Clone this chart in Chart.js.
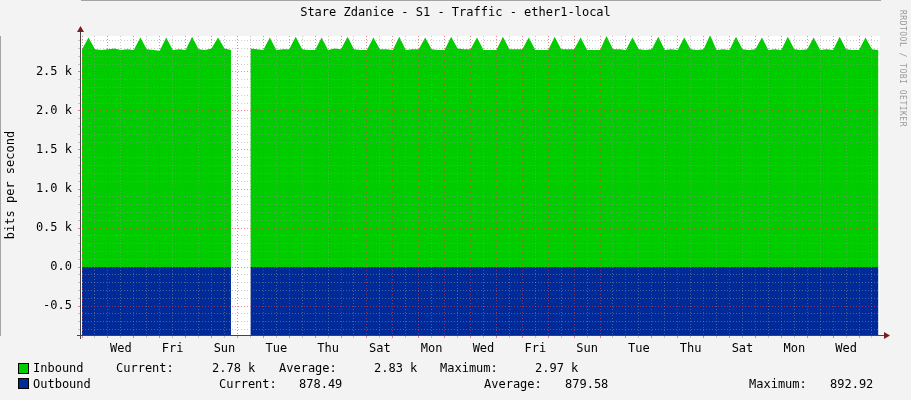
<!DOCTYPE html>
<html><head><meta charset="utf-8">
<script src="https://cdn.jsdelivr.net/npm/chart.js@4.4.0/dist/chart.umd.min.js"></script>
<style>
  body { margin:0; background:#f3f3f3; font-family:"DejaVu Sans Mono", monospace; }
  #wrap { position:relative; width:911px; height:400px; overflow:hidden; }
  #c { position:absolute; left:0; top:0; }
  .t { position:absolute; font-size:12px; color:#000; white-space:pre; line-height:14px; }
  .sq { position:absolute; width:9px; height:9px; border:1px solid #000; }
  #title { position:absolute; left:0; width:911px; top:5px; text-align:center; font-size:12px; }
  #side { position:absolute; left:898px; top:10px; font-size:8px; color:#999; writing-mode:vertical-rl; letter-spacing:0.5px; }
  #ylab { position:absolute; left:-45px; top:178px; width:110px; text-align:center; font-size:12px; transform:rotate(-90deg); }
</style></head>
<body><div id="wrap">
<canvas id="c" width="911" height="400"></canvas>
<div id="title">Stare Zdanice - S1 - Traffic - ether1-local</div>
<div id="side">RRDTOOL / TOBI OETIKER</div>
<div id="ylab">bits per second</div>
<div class="sq" style="left:18px;top:363px;background:#00cc00"></div>
<div class="sq" style="left:18px;top:378px;background:#002a97"></div>
<div class="t" style="left:33px;top:361px">Inbound</div>
<div class="t" style="left:116px;top:361px">Current:</div>
<div class="t" style="left:212px;top:361px">2.78 k</div>
<div class="t" style="left:279px;top:361px">Average:</div>
<div class="t" style="left:374px;top:361px">2.83 k</div>
<div class="t" style="left:440px;top:361px">Maximum:</div>
<div class="t" style="left:535px;top:361px">2.97 k</div>
<div class="t" style="left:33px;top:377px">Outbound</div>
<div class="t" style="left:219px;top:377px">Current:</div>
<div class="t" style="left:299px;top:377px">878.49</div>
<div class="t" style="left:484px;top:377px">Average:</div>
<div class="t" style="left:565px;top:377px">879.58</div>
<div class="t" style="left:749px;top:377px">Maximum:</div>
<div class="t" style="left:830px;top:377px">892.92</div>
</div>
<script>
// samples every 6 hours, first sample one day before the first midnight (Wed)
const START_DAY = -1;
const STEP_DAY = 0.25;
const DAY_NAMES = ['Wed','Thu','Fri','Sat','Sun','Mon','Tue'];

const inbound = [
  2.79,2.94,2.79,2.78, 2.79,2.80,2.78,2.79, 2.78,2.94,2.79,2.78, 2.77,2.94,2.78,2.79,
  2.78,2.95,2.79,2.78, 2.80,2.94,2.80,2.78, null,null,2.80,2.79, 2.78,2.94,2.78,2.79,
  2.79,2.95,2.79,2.78, 2.78,2.94,2.78,2.80, 2.79,2.95,2.79,2.78, 2.78,2.94,2.79,2.79,
  2.78,2.95,2.78,2.79, 2.79,2.94,2.79,2.78, 2.78,2.95,2.80,2.79, 2.79,2.94,2.78,2.78,
  2.78,2.95,2.79,2.79, 2.79,2.94,2.78,2.78, 2.78,2.95,2.79,2.79, 2.79,2.94,2.78,2.78,
  2.78,2.96,2.79,2.79, 2.78,2.94,2.79,2.78, 2.79,2.95,2.78,2.79, 2.78,2.94,2.79,2.78,
  2.79,2.97,2.78,2.79, 2.78,2.95,2.79,2.78, 2.79,2.94,2.78,2.79, 2.78,2.95,2.79,2.78,
  2.79,2.94,2.78,2.79, 2.78,2.95,2.79,2.78, 2.78,2.94,2.79,2.78
];
const outbound = [
  -0.88,-0.88,-0.87,-0.88, -0.88,-0.88,-0.88,-0.87, -0.88,-0.88,-0.88,-0.88, -0.87,-0.88,-0.88,-0.88,
  -0.88,-0.88,-0.87,-0.88, -0.88,-0.88,-0.88,-0.88, null,null,-0.88,-0.87, -0.88,-0.88,-0.88,-0.88,
  -0.88,-0.87,-0.88,-0.88, -0.88,-0.88,-0.88,-0.87, -0.88,-0.88,-0.88,-0.88, -0.87,-0.88,-0.88,-0.88,
  -0.88,-0.88,-0.87,-0.88, -0.88,-0.88,-0.88,-0.88, -0.88,-0.87,-0.88,-0.88, -0.88,-0.88,-0.88,-0.87,
  -0.88,-0.88,-0.88,-0.88, -0.87,-0.88,-0.88,-0.88, -0.88,-0.88,-0.87,-0.88, -0.88,-0.88,-0.88,-0.88,
  -0.88,-0.87,-0.88,-0.88, -0.88,-0.88,-0.88,-0.87, -0.88,-0.88,-0.88,-0.88, -0.87,-0.89,-0.88,-0.88,
  -0.88,-0.88,-0.87,-0.88, -0.88,-0.88,-0.88,-0.88, -0.88,-0.87,-0.88,-0.88, -0.88,-0.88,-0.88,-0.87,
  -0.88,-0.88,-0.88,-0.88, -0.87,-0.88,-0.88,-0.88, -0.88,-0.88,-0.88,-0.88
];
const yTickLabels = ['-0.5','0.0','0.5 k','1.0 k','1.5 k','2.0 k','2.5 k'];

const toPts = arr => arr.map((v, i) => ({ x: START_DAY + i * STEP_DAY, y: v }));
const near = (v, s) => Math.abs(v / s - Math.round(v / s)) < 1e-6;
const range = (a, b, s) => { const o = []; for (let v = a; v <= b + 1e-9; v += s) o.push({ value: Math.round(v * 100) / 100 }); return o; };

new Chart(document.getElementById('c'), {
  type: 'line',
  data: { datasets: [
    { label:'Inbound', data: toPts(inbound), fill:'origin', backgroundColor:'#00cc00', borderWidth:0, pointRadius:0, spanGaps:false, tension:0 },
    { label:'Outbound', data: toPts(outbound), fill:'origin', backgroundColor:'#002a97', borderWidth:0, pointRadius:0, spanGaps:false, tension:0 }
  ]},
  options: {
    responsive:false, animation:false,
    layout: { padding: { top:36, right:31, left:0, bottom:0 } },
    plugins: { legend:{ display:false }, tooltip:{ enabled:false } },
    scales: {
      x: {
        type:'linear', min:-1.04, max:29.81,
        afterBuildTicks: s => { s.ticks = range(-1, 29.5, 0.5); },
        afterFit: s => { s.height = 65; },
        ticks: {
          autoSkip:false, maxRotation:0, padding:4, color:'#000',
          font:{ family:'DejaVu Sans Mono', size:12 },
          callback: v => {
            const k = Math.floor(v);
            if (near(v - 0.5, 1) && k >= 0 && k % 2 === 0) return DAY_NAMES[k % 7];
            return '';
          }
        },
        grid: {
          color: c => near(c.tick.value, 1) ? 'rgba(230,60,60,0.6)' : 'rgba(150,150,150,0.5)',
          tickLength:3, drawOnChartArea:true, z:1
        },
        border: { color:'#555', dash:[1,2] }
      },
      y: {
        min:-0.87, max:2.96,
        afterBuildTicks: s => { s.ticks = range(-0.8, 2.9, 0.1); },
        afterFit: s => { s.width = 81; },
        ticks: {
          autoSkip:false, padding:6, color:'#000',
          font:{ family:'DejaVu Sans Mono', size:12 },
          callback: v => near(v, 0.5) ? yTickLabels[Math.round(v / 0.5) + 1] : ''
        },
        grid: {
          color: c => near(c.tick.value, 0.5) ? 'rgba(230,60,60,0.6)' : 'rgba(150,150,150,0.5)',
          tickLength:3, z:1
        },
        border: { color:'#555', dash:[1,2] }
      }
    }
  },
  plugins: [{
    id:'plotBg',
    beforeDraw: ch => {
      const a = ch.chartArea, g = ch.ctx;
      g.save(); g.fillStyle = '#fff'; g.fillRect(a.left, a.top, a.right - a.left, a.bottom - a.top); g.restore();
    },
    afterDraw: ch => {
      const a = ch.chartArea, g = ch.ctx;
      g.save(); g.strokeStyle = '#444'; g.lineWidth = 1;
      g.beginPath(); g.moveTo(a.left - 0.5, a.bottom + 4); g.lineTo(a.left - 0.5, a.top - 6);
      g.moveTo(a.left - 4, a.bottom + 0.5); g.lineTo(a.right + 6, a.bottom + 0.5); g.stroke();
      g.fillStyle = '#7a1f1f';
      g.beginPath(); g.moveTo(a.left - 4, a.top - 4); g.lineTo(a.left + 3, a.top - 4); g.lineTo(a.left - 0.5, a.top - 10); g.fill();
      g.beginPath(); g.moveTo(a.right + 4, a.bottom - 3); g.lineTo(a.right + 4, a.bottom + 4); g.lineTo(a.right + 10, a.bottom + 0.5); g.fill();
      g.restore();
    }
  }]
});
</script>
</body></html>
